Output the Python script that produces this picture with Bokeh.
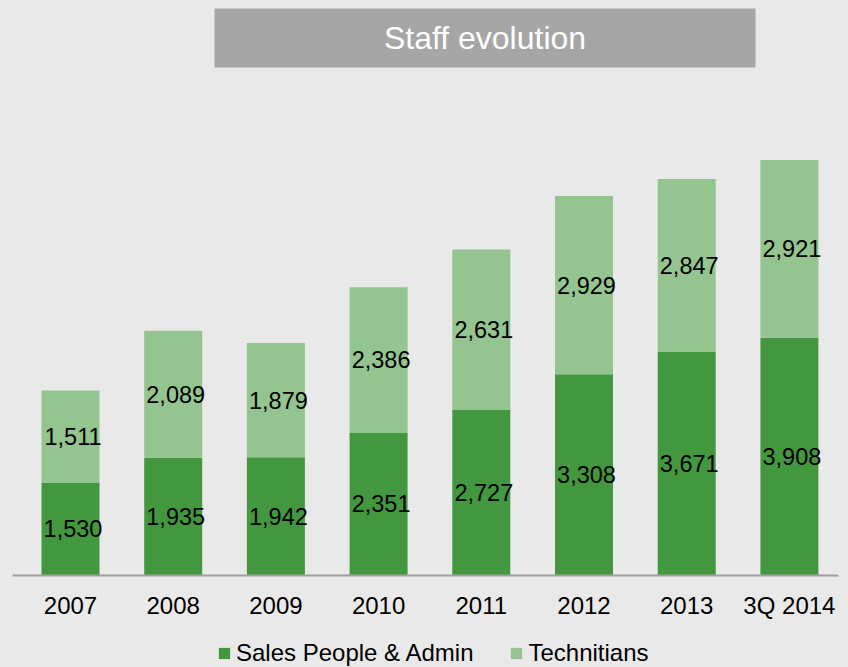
from bokeh.plotting import figure
from bokeh.models import (ColumnDataSource, Range1d, LinearAxis, FixedTicker,
                          Legend, LegendItem, Label)
from bokeh.embed import file_html
from bokeh.resources import INLINE
from bokeh.core.properties import value

# ---------------- data ----------------
categories = ["2007", "2008", "2009", "2010", "2011", "2012", "2013", "3Q 2014"]
sales_admin = [1530, 1935, 1942, 2351, 2727, 3308, 3671, 3908]
technicians = [1511, 2089, 1879, 2386, 2631, 2929, 2847, 2921]
series_names = ["Sales People & Admin", "Technitians"]
title_text = "Staff evolution"

# ---------------- styles ----------------
BG = "#e8e9e8"
DARK = "#43983f"
LIGHT = "#94c48f"
TITLE_BOX = "#a6a6a6"
FONT = "Liberation Sans"

W, H = 848, 667
BORDER_L, BORDER_R = 12, 10
frame_w = W - BORDER_L - BORDER_R
px_per_cat = 102.7
first_center = 58.0          # px from frame left to first bar centre
px_per_unit = 0.06085
zero_from_top = 575.0        # px from frame top to baseline

x_start = -first_center / px_per_cat
x_end = x_start + frame_w / px_per_cat
y_end = zero_from_top / px_per_unit
y_start = -(H - zero_from_top) / px_per_unit

idx = list(range(len(categories)))
tops = [s + t for s, t in zip(sales_admin, technicians)]
src = ColumnDataSource(dict(
    x=idx,
    sales=sales_admin,
    tech=technicians,
    top=tops,
    zero=[0] * len(idx),
    sales_mid=[s / 2 for s in sales_admin],
    tech_mid=[s + t / 2 for s, t in zip(sales_admin, technicians)],
    sales_lbl=[f"{v:,}" for v in sales_admin],
    tech_lbl=[f"{v:,}" for v in technicians],
))

p = figure(width=W, height=H, output_backend="svg", toolbar_location=None,
           x_range=Range1d(x_start, x_end), y_range=Range1d(y_start, y_end),
           x_axis_type=None, y_axis_type=None,
           min_border_left=BORDER_L, min_border_right=BORDER_R,
           min_border_top=0, min_border_bottom=0)
p.background_fill_color = BG
p.border_fill_color = BG
p.outline_line_color = None
p.xgrid.visible = False
p.ygrid.visible = False

bar_w = 58 / px_per_cat
r1 = p.vbar(x="x", bottom="zero", top="sales", width=bar_w, source=src,
            fill_color=DARK, line_color=None)
r2 = p.vbar(x="x", bottom="sales", top="top", width=bar_w, source=src,
            fill_color=LIGHT, line_color=None)

for col_y, col_t in (("sales_mid", "sales_lbl"), ("tech_mid", "tech_lbl")):
    p.text(x="x", y=col_y, text=col_t, source=src, x_offset=2.5,
           text_font=value(FONT), text_font_size="23.5px", text_color="#000000",
           text_align="center", text_baseline="middle")

# x axis at y=0
xaxis = LinearAxis(fixed_location=0, ticker=FixedTicker(ticks=idx),
                   major_label_overrides={i: c for i, c in zip(idx, categories)})
xaxis.axis_line_color = "#a0a0a0"
xaxis.axis_line_width = 2
xaxis.major_tick_line_color = None
xaxis.minor_tick_line_color = None
xaxis.major_label_standoff = 10
xaxis.major_label_text_font = FONT
xaxis.major_label_text_font_size = "24px"
xaxis.major_label_text_color = "#000000"
p.add_layout(xaxis, "below")

# title box (decoration, placed in screen-derived coordinates)
tb_left = (214 - BORDER_L - first_center) / px_per_cat
tb_right = (755 - BORDER_L - first_center) / px_per_cat
tb_top = (zero_from_top - 8) / px_per_unit
tb_bottom = (zero_from_top - 67) / px_per_unit
p.quad(left=[tb_left], right=[tb_right], top=[tb_top], bottom=[tb_bottom],
       fill_color=TITLE_BOX, line_color=None)
p.add_layout(Label(x=(tb_left + tb_right) / 2, y=(tb_top + tb_bottom) / 2,
                   text=title_text, text_font=FONT, text_font_size="32px",
                   text_color="#ffffff", text_align="center",
                   text_baseline="middle"))

legend = Legend(items=[LegendItem(label=series_names[0], renderers=[r1]),
                       LegendItem(label=series_names[1], renderers=[r2])],
                orientation="horizontal", location=(205, 0))
legend.padding = 0
legend.margin = 0
legend.spacing = 36
legend.label_standoff = 5
legend.glyph_width = 14
legend.glyph_height = 14
legend.label_text_font = FONT
legend.label_text_font_size = "24px"
legend.label_text_color = "#000000"
legend.background_fill_alpha = 0
legend.border_line_color = None
p.add_layout(legend)

html = file_html(p, INLINE)
html = html.replace("</head>", "<style>html,body{background:%s;}</style></head>" % BG, 1)
open("out.html", "w").write(html)
